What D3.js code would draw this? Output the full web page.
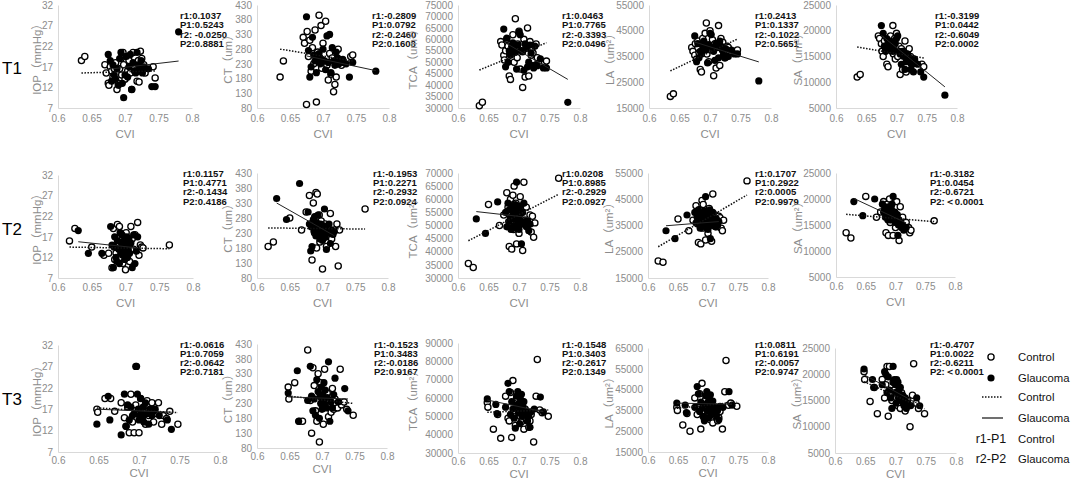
<!DOCTYPE html>
<html>
<head>
<meta charset="utf-8">
<script src="https://cdn.jsdelivr.net/npm/d3@7"></script>
<style>
body{margin:0;background:#fff}
svg{display:block}
.axis .domain{stroke:#d9d9d9;stroke-width:1}
.axis .tick text{fill:#8c8c8c;font-family:"Liberation Sans",Arial,sans-serif;font-size:10px}
.title{fill:#8c8c8c;font-family:"Liberation Sans",Arial,"Noto Sans CJK SC",sans-serif;font-size:11.5px}
.stat{fill:#111;font-family:"Liberation Sans Narrow","Arial Narrow",sans-serif;font-size:9.5px;font-weight:bold}
.rowlab{fill:#000;font-family:"Liberation Sans",Arial,sans-serif;font-size:17px}
.leg{fill:#111;font-family:"Liberation Sans",Arial,sans-serif;font-size:11.3px}
</style>
</head>
<body>
<svg width="1072" height="483"></svg>
<script>
// ---- data ----
var xTicks = [0.6,0.65,0.7,0.75,0.8]
var yTitles = ["IOP（mmHg）","CT（um）","TCA（um²）","LA（um²）","SA（um²）"]

// T1
var t1CtrlCvi = [0.635,0.640,0.670,0.672,0.675,0.676,0.678,0.680,0.682,0.684,0.686,0.688,0.690,0.692,0.694,0.695,0.697,0.698,0.700,0.702,0.704,0.706,0.708,0.710,0.712,0.714,0.716,0.718,0.720,0.721,0.723,0.725,0.728,0.730,0.742,0.745]
var t1GlauCvi = [0.675,0.678,0.680,0.682,0.684,0.686,0.688,0.690,0.692,0.694,0.696,0.698,0.700,0.702,0.704,0.706,0.708,0.710,0.712,0.714,0.716,0.718,0.720,0.722,0.724,0.726,0.728,0.730,0.735,0.740,0.745,0.780]
var t1IopCtrl = [18.5,19.5,17.5,15.5,13,12.5,17,16,14.5,16.5,18,11.5,13,16.5,19,15,20.5,17.5,14,19.5,16,18.5,15.5,11.5,20.5,17,16,13.5,18.5,13.3,20.8,19,17.5,15.5,17,14.3]
var t1IopGlau = [20,18.5,13.5,17.5,15,14,16.5,12.5,19,20.5,13,9.5,15,19.5,14.5,17,20,11.5,18,16,15.5,20.5,17.5,16,18.5,15.5,17,16.5,16.5,12.2,12.2,25.5]
var t1CtCtrl = [185,240,320,300,92,340,255,310,205,285,230,345,100,270,395,250,360,215,300,240,375,225,175,265,195,250,135,160,185,230,280,245,225,240,255,260]
var t1CtGlau = [390,275,185,220,320,260,240,200,255,265,230,245,280,240,210,325,235,330,200,285,240,225,270,250,230,240,235,245,230,185,235,205]
var t1TcaCtrl = [31000,32500,59000,57500,53000,51000,55000,60000,57000,44000,42500,54000,62000,50000,69000,56000,52000,58000,63500,47000,55000,39000,60000,43500,57000,65000,44000,59000,53000,56000,54000,48000,58000,52000,50000,50500]
var t1TcaGlau = [64500,48000,60500,50000,55000,53000,57000,58500,56000,54500,47000,57500,63000,62000,55000,54500,46500,58000,56000,48000,50000,57500,54000,48500,47500,57000,49000,48500,51500,47500,47500,32500]
var t1LaCtrl = [19500,20500,38500,37000,35500,40000,34000,41000,36500,30000,29000,42000,38000,44000,48000,36000,39500,33000,45000,37500,41500,27500,40000,30500,39000,47000,31500,42000,38000,40500,36000,34500,39000,38500,37000,37500]
var t1LaGlau = [43000,33000,40000,34500,37000,36000,39000,41000,38000,37500,32500,39500,44000,43500,38500,37000,33500,40000,38500,34500,41000,39000,37500,35500,34500,38000,35000,35000,37500,36000,36000,25500]
var t1SaCtrl = [11000,11500,19000,18500,17500,16000,15000,18000,16500,13500,13000,17000,19000,16000,21000,15500,18500,14500,19500,15000,17000,11500,16500,12500,15500,18000,12000,16000,14500,16500,15000,13500,14500,14000,13500,13000]
var t1SaGlau = [21000,19500,17000,16000,18500,17500,16500,18000,17000,16000,16500,17500,18500,19000,16000,15500,13500,16000,15000,12500,14000,15500,15000,14000,12500,13500,12000,14500,13500,12000,11000,7500]
var t1CtrlFit = [[[0.635,15.5],[0.745,16.0]],[[0.635,280],[0.745,240]],[[0.635,46600],[0.745,58500]],[[0.635,29400],[0.745,41800]],[[0.635,16850],[0.745,14700]]]
var t1GlauFit = [[[0.675,16.4],[0.78,18.4]],[[0.675,257],[0.78,207]],[[0.675,58900],[0.78,42500]],[[0.675,40600],[0.78,32900]],[[0.675,19100],[0.78,9100]]]
var t1Stats = [["r1:0.1037","P1:0.5243","r2: -0.0250","P2:0.8881"],["r1:-0.2809","P1:0.0792","r2:-0.2460","P2:0.1608"],["r1:0.0463","P1:0.7765","r2:-0.3393","P2:0.0496"],["r1:0.2413","P1:0.1337","r2:-0.1022","P2:0.5651"],["r1:-0.3199","P1:0.0442","r2:-0.6049","P2:0.0002"]]
var t1YDomains = [[7,32],[80,430],[30000,75000],[15000,55000],[5000,25000]]
var t1YSteps = [5,50,5000,10000,5000]

// T2
var t2CtrlCvi = [0.617,0.625,0.650,0.668,0.675,0.680,0.682,0.684,0.686,0.688,0.690,0.691,0.692,0.694,0.695,0.696,0.698,0.700,0.701,0.702,0.704,0.706,0.708,0.710,0.712,0.714,0.718,0.720,0.722,0.724,0.726,0.765]
var t2GlauCvi = [0.630,0.645,0.665,0.678,0.680,0.682,0.683,0.684,0.686,0.687,0.688,0.690,0.691,0.692,0.693,0.694,0.695,0.696,0.697,0.698,0.699,0.700,0.701,0.702,0.703,0.704,0.705,0.706,0.708,0.710,0.712,0.714,0.716,0.718]
var t2IopCtrl = [16,19,14.5,12.5,13,9.5,19,11.5,13,20,15.5,19.5,12,14,17,10.5,16,9,18,13.5,15,11,19.5,16.5,14,17.5,20.5,12.5,15,14.5,14.3,15]
var t2IopGlau = [18.5,13,13,19.5,15,9.5,14.5,17,12,11,16,14,10.5,18,13,15.5,17.5,12.5,14.5,16,11.5,13.5,15,17,12,14,16.5,13,15.5,9.5,17.5,10.5,13.5,17]
var t2CtCtrl = [185,200,280,240,300,355,260,140,330,230,365,180,360,250,290,200,270,110,240,220,260,185,250,230,295,210,240,185,260,120,240,310]
var t2CtGlau = [345,275,395,300,260,170,250,185,275,235,285,220,265,250,290,240,225,210,260,245,230,205,255,240,310,215,250,175,230,260,195,240,225,235]
var t2TcaCtrl = [35500,34000,58000,50000,54000,62500,57000,42000,60000,41000,61500,48500,65000,53000,58500,43000,56000,47000,51000,61000,55000,40500,66500,52000,57000,50000,54000,47500,53500,45500,51000,68000]
var t2TcaGlau = [52500,47000,59000,55000,49500,58500,51500,56000,53000,48500,57500,54500,50000,52500,55500,58000,49000,66500,53500,51000,56500,48500,54000,52000,57500,43000,50500,55000,58500,51500,49500,52000,48000,50500]
var t2LaCtrl = [21500,21000,37500,33000,37000,42500,39000,28500,41000,28000,44500,34000,43000,36500,40000,29500,38500,32000,35000,41500,37500,29000,47000,36000,39000,34500,38500,38000,34000,33000,37000,52000]
var t2LaGlau = [33000,30000,39000,40000,36000,38000,35500,41000,37000,34000,39500,36500,35000,37500,38500,40500,34500,46000,37000,35500,39000,33500,37500,36000,41000,30000,35000,38000,40000,36000,34500,37500,35000,36500]
var t2SaCtrl = [13500,12500,20500,16500,17500,19500,18000,13500,19000,13000,20000,15500,18500,16000,17500,13000,17000,14500,16500,19500,16000,12000,18500,15500,16500,15000,15500,14500,14500,13500,14000,15800]
var t2SaGlau = [19500,16800,20000,19000,17500,18500,16500,18000,17000,16000,18500,17000,16000,17500,18000,19000,16500,20500,17000,16000,17500,15500,16500,15500,17000,13000,15000,16000,15500,14500,15000,14000,14500,14500]
var t2CtrlFit = [[[0.617,14.5],[0.765,14.1]],[[0.617,247],[0.765,243]],[[0.617,44200],[0.765,61900]],[[0.617,26900],[0.765,46600]],[[0.617,17050],[0.765,15650]]]
var t2GlauFit = [[[0.63,15.8],[0.718,14.3]],[[0.63,330],[0.718,221]],[[0.63,55300],[0.718,53000]],[[0.63,34900],[0.718,36500]],[[0.63,20100],[0.718,15400]]]
var t2Stats = [["r1:0.1157","P1:0.4771","r2:-0.1434","P2:0.4186"],["r1:-0.1953","P1:0.2271","r2:-0.2932","P2:0.0924"],["r1:0.0208","P1:0.8985","r2:-0.2929","P2:0.0927"],["r1:0.1707","P1:0.2922","r2:0.0005","P2:0.9979"],["r1:-0.3182","P1:0.0454","r2:-0.6721","P2:＜0.0001"]]
var t2YDomains = [[7,32],[80,430],[30000,70000],[15000,55000],[5000,25000]]
var t2YSteps = [5,50,5000,10000,5000]

// T3
var t3CtrlCvi = [0.648,0.649,0.658,0.665,0.670,0.678,0.682,0.684,0.686,0.688,0.690,0.692,0.694,0.696,0.698,0.700,0.702,0.704,0.706,0.708,0.710,0.712,0.714,0.716,0.718,0.720,0.724,0.728,0.730,0.734,0.738,0.748]
var t3GlauCvi = [0.648,0.662,0.664,0.678,0.682,0.684,0.686,0.688,0.690,0.692,0.694,0.696,0.697,0.698,0.699,0.700,0.701,0.702,0.703,0.704,0.705,0.706,0.708,0.710,0.712,0.714,0.716,0.718,0.720,0.725,0.735,0.740]
var t3IopCtrl = [17,16.3,19.5,19.5,16.5,18.5,15,13,17.5,11.5,20.5,14,11.5,18,16,11.5,19.5,15,17.5,13.5,19,15.5,17,18.5,14,16,18.5,13.5,15.5,14.8,16.5,13.5]
var t3IopGlau = [13.5,20,14.5,11,20.5,13,18,14.5,17.5,15.5,16,27,27,20.5,17,14.5,15.5,19.5,16,15,17.5,14,18.5,16,13.5,17,15.5,16.5,17,15.5,14.5,12.3]
var t3CtCtrl = [285,245,300,170,170,410,240,130,350,290,205,170,330,100,300,250,160,345,225,265,185,240,200,280,210,245,215,345,225,235,210,190]
var t3CtGlau = [265,340,170,240,355,255,205,245,190,310,270,180,255,230,285,210,260,240,300,225,275,215,250,370,170,235,215,260,315,235,280,205]
var t3TcaCtrl = [57500,55000,43000,51000,38000,61000,49000,47500,63000,38500,69500,53000,45000,60000,56000,52000,50000,47000,58000,43000,54000,48000,50500,44000,47500,51000,36000,61000,81000,53500,52000,50000]
var t3TcaGlau = [59500,56500,51500,55000,68000,63500,51000,58000,54000,49000,43500,61000,56000,63500,52000,57000,46000,60000,53500,62000,50000,55500,58000,51000,53000,47500,50500,44000,52500,54000,60500,52500]
var t3LaCtrl = [36500,35000,28000,33500,25000,41000,33000,36500,43000,26000,48000,35000,31500,40000,37000,34000,32000,30500,38000,29000,36000,32500,33500,30000,31500,34500,26000,44000,59000,37500,38500,37000]
var t3LaGlau = [38500,37500,34000,36500,46500,43000,34500,39000,36000,32000,30000,42000,38000,44000,35000,39000,31500,41000,36000,42500,34000,37500,39500,35000,36500,32500,35000,30500,37000,36500,44000,37500]
var t3SaCtrl = [20500,19000,14800,17500,12500,19000,15500,18000,21500,12000,21500,16500,15000,18500,17000,16000,15500,14000,17500,13500,16500,15000,14500,13000,14000,15000,10000,16000,22000,14500,13500,12500]
var t3SaGlau = [21000,19000,17500,18000,20500,20000,16500,19500,17000,15500,13500,21500,18500,19000,16500,18000,14500,19000,16500,18500,15500,17000,17500,15000,16000,14000,15500,13500,14500,14000,15500,14000]
var t3CtrlFit = [[[0.648,17.3],[0.748,16.2]],[[0.648,255],[0.748,230]],[[0.648,52200],[0.748,53500]],[[0.648,36000],[0.748,39000]],[[0.648,18600],[0.748,13400]]]
var t3GlauFit = [[[0.648,17.0],[0.74,16.3]],[[0.648,252],[0.74,245]],[[0.648,58900],[0.74,52500]],[[0.648,38500],[0.74,38000]],[[0.648,19900],[0.74,14200]]]
var t3Stats = [["r1:-0.0616","P1:0.7059","r2:-0.0642","P2:0.7181"],["r1:-0.1523","P1:0.3483","r2:-0.0186","P2:0.9167"],["r1:-0.1548","P1:0.3403","r2:-0.2617","P2:0.1349"],["r1:0.0811","P1:0.6191","r2:-0.0057","P2:0.9747"],["r1:-0.4707","P1:0.0022","r2:-0.6211","P2:＜0.0001"]]
var t3YDomains = [[7,32],[80,430],[30000,90000],[15000,65000],[5000,25000]]
var t3YSteps = [5,50,10000,10000,5000]

var legendLabels = ["Control","Glaucoma","Control","Glaucoma","Control","Glaucoma"]

// ---- layout ----
var rows = [
  {name:"T1", labY:74, ctrlCvi:t1CtrlCvi, glauCvi:t1GlauCvi,
   ctrl:[t1IopCtrl,t1CtCtrl,t1TcaCtrl,t1LaCtrl,t1SaCtrl], glau:[t1IopGlau,t1CtGlau,t1TcaGlau,t1LaGlau,t1SaGlau],
   ctrlFit:t1CtrlFit, glauFit:t1GlauFit, stats:t1Stats, yDom:t1YDomains, ySteps:t1YSteps,
   left:[58,257,458,649,836], right:[192,389,580,771,957], top:[5,5,5,5,5], bottom:[108,108,108,108,108],
   statX:[180,372,562,755,935], statY:18.5, statGap:9.6, tickPad:7, cviGap:30},
  {name:"T2", labY:235, ctrlCvi:t2CtrlCvi, glauCvi:t2GlauCvi,
   ctrl:[t2IopCtrl,t2CtCtrl,t2TcaCtrl,t2LaCtrl,t2SaCtrl], glau:[t2IopGlau,t2CtGlau,t2TcaGlau,t2LaGlau,t2SaGlau],
   ctrlFit:t2CtrlFit, glauFit:t2GlauFit, stats:t2Stats, yDom:t2YDomains, ySteps:t2YSteps,
   left:[58,257,458,648,836], right:[193,388,580,768,955], top:[175,173,173,173,173], bottom:[278,278,278,278,277],
   statX:[183,373,562,755,930], statY:176.5, statGap:9.4, tickPad:6, cviGap:29},
  {name:"T3", labY:405, ctrlCvi:t3CtrlCvi, glauCvi:t3GlauCvi,
   ctrl:[t3IopCtrl,t3CtCtrl,t3TcaCtrl,t3LaCtrl,t3SaCtrl], glau:[t3IopGlau,t3CtGlau,t3TcaGlau,t3LaGlau,t3SaGlau],
   ctrlFit:t3CtrlFit, glauFit:t3GlauFit, stats:t3Stats, yDom:t3YDomains, ySteps:t3YSteps,
   left:[58,257,458,648,835], right:[220,387,580,768,956], top:[345,344,343,348,348], bottom:[452,448,453,452,453],
   statX:[180,374,562,755,930], statY:347.5, statGap:9.1, tickPad:5, cviGap:25}
]
var titleOffset = [21,29,45,39,38]

var svg = d3.select("svg")

var line = d3.line()

var drawPanel = function(row, c)
{
    var x = d3.scaleLinear().domain([0.6,0.8]).range([row.left[c], row.right[c]])
    var dom = row.yDom[c]
    var y = d3.scaleLinear().domain(dom).range([row.bottom[c], row.top[c]])
    var yTicks = d3.range(dom[0], dom[1] + row.ySteps[c]/2, row.ySteps[c])

    var g = svg.append("g")

    g.append("g")
        .classed("axis", true)
        .attr("transform", "translate(0," + row.bottom[c] + ")")
        .call(d3.axisBottom(x).tickValues(xTicks).tickSize(0).tickPadding(row.tickPad)
              .tickFormat(function(d){ return +d.toFixed(2) }))
    g.append("g")
        .classed("axis", true)
        .attr("transform", "translate(" + row.left[c] + ",0)")
        .call(d3.axisLeft(y).tickValues(yTicks).tickSize(0).tickPadding(5).tickFormat(d3.format("d")))

    // axis titles
    g.append("text")
        .classed("title", true)
        .attr("text-anchor", "middle")
        .attr("x", (row.left[c] + row.right[c]) / 2)
        .attr("y", Math.min(row.bottom[c] + row.cviGap, 478))
        .text("CVI")
    g.append("text")
        .classed("title", true)
        .attr("text-anchor", "middle")
        .attr("transform", "translate(" + (row.left[c] - titleOffset[c]) + "," + ((row.top[c] + row.bottom[c]) / 2) + ") rotate(-90)")
        .attr("dy", "0.35em")
        .text(yTitles[c])

    // points
    g.append("g").selectAll("circle")
        .data(d3.zip(row.ctrlCvi, row.ctrl[c]))
        .enter().append("circle")
        .attr("cx", function(d){ return x(d[0]) })
        .attr("cy", function(d){ return y(d[1]) })
        .attr("r", 3.1)
        .attr("fill", "#fff")
        .attr("stroke", "#000")
        .attr("stroke-width", 1.3)
    g.append("g").selectAll("circle")
        .data(d3.zip(row.glauCvi, row.glau[c]))
        .enter().append("circle")
        .attr("cx", function(d){ return x(d[0]) })
        .attr("cy", function(d){ return y(d[1]) })
        .attr("r", 3.6)
        .attr("fill", "#000")

    // trend lines
    line.x(function(d){ return x(d[0]) }).y(function(d){ return y(d[1]) })
    g.append("path")
        .attr("d", line(row.ctrlFit[c]))
        .attr("fill", "none")
        .attr("stroke", "#111")
        .attr("stroke-width", 1.5)
        .attr("stroke-dasharray", "1.5,1.5")
    g.append("path")
        .attr("d", line(row.glauFit[c]))
        .attr("fill", "none")
        .attr("stroke", "#222")
        .attr("stroke-width", 1)

    // stats
    g.append("g").selectAll("text")
        .data(row.stats[c])
        .enter().append("text")
        .classed("stat", true)
        .attr("x", row.statX[c])
        .attr("y", function(d, i){ return row.statY + i * row.statGap })
        .text(function(d){ return d })
}

rows.forEach(function(row)
{
    svg.append("text")
        .classed("rowlab", true)
        .attr("x", 2)
        .attr("y", row.labY)
        .text(row.name)
    for (var c = 0; c < 5; c++) drawPanel(row, c)
})

// legend
var legY = [357,378,397,418,439,459]
var leg = svg.append("g")
leg.append("circle").attr("cx", 991).attr("cy", legY[0]).attr("r", 3.1)
    .attr("fill", "#fff").attr("stroke", "#000").attr("stroke-width", 1.3)
leg.append("circle").attr("cx", 991).attr("cy", legY[1]).attr("r", 3.6).attr("fill", "#000")
leg.append("line").attr("x1", 982).attr("x2", 1003).attr("y1", legY[2]).attr("y2", legY[2])
    .attr("stroke", "#111").attr("stroke-width", 1.5).attr("stroke-dasharray", "1.5,1.5")
leg.append("line").attr("x1", 982).attr("x2", 1003).attr("y1", legY[3]).attr("y2", legY[3])
    .attr("stroke", "#111").attr("stroke-width", 1.2)
leg.append("text").classed("leg", true).attr("x", 991).attr("y", legY[4]).attr("dy", "0.35em")
    .attr("text-anchor", "middle").style("font-size", "12.5px").text("r1-P1")
leg.append("text").classed("leg", true).attr("x", 991).attr("y", legY[5]).attr("dy", "0.35em")
    .attr("text-anchor", "middle").style("font-size", "12.5px").text("r2-P2")
leg.selectAll("text.lab")
    .data(legendLabels)
    .enter().append("text")
    .classed("leg lab", true)
    .attr("x", 1018)
    .attr("y", function(d, i){ return legY[i] })
    .attr("dy", "0.35em")
    .text(function(d){ return d })
</script>
</body>
</html>
